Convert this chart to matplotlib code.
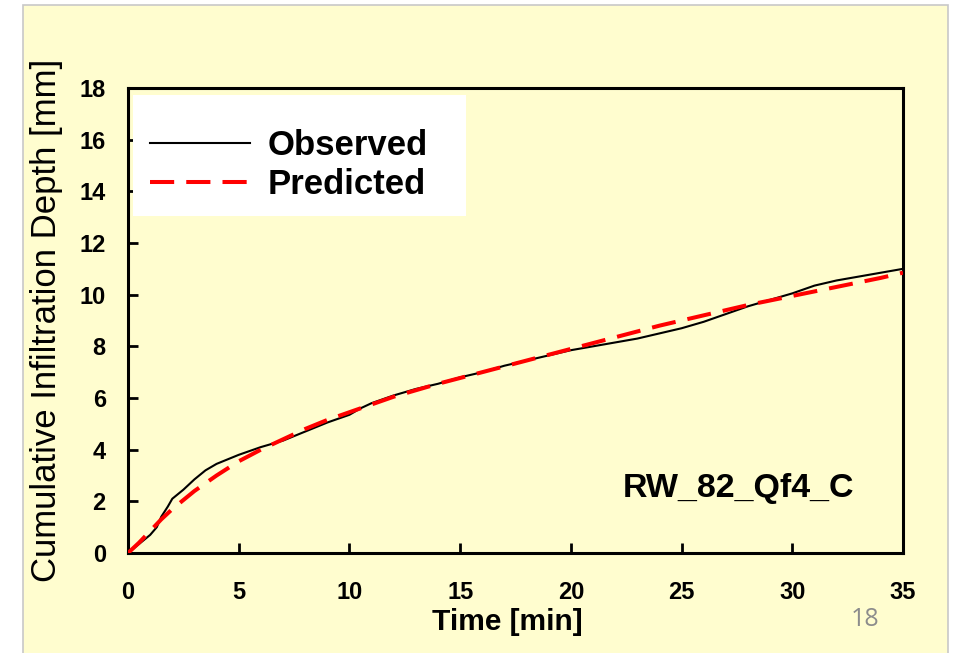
import matplotlib
matplotlib.use('Agg')
import matplotlib.pyplot as plt
from matplotlib.patches import Rectangle

plt.rcParams['font.family'] = ['Liberation Sans', 'DejaVu Sans']

# observed cumulative infiltration
t_obs = [0, 0.5, 1.0, 1.3, 1.5, 1.8, 2.0, 2.5, 3.0, 3.5, 4.0, 5.0, 6.0, 7.0,
         8.0, 9.0, 10.0, 10.5, 11.0, 12.0, 13.0, 14.0, 15.0, 16.0, 17.0, 18.0,
         19.0, 20.0, 21.0, 22.0, 23.0, 24.0, 25.0, 26.0, 27.0, 28.0, 29.0,
         30.0, 31.0, 32.0, 33.0, 34.0, 35.0]
i_obs = [0, 0.35, 0.7, 1.0, 1.4, 1.8, 2.1, 2.45, 2.85, 3.2, 3.45, 3.8, 4.1,
         4.35, 4.7, 5.05, 5.35, 5.6, 5.8, 6.1, 6.35, 6.55, 6.8, 7.0, 7.25,
         7.45, 7.65, 7.85, 8.0, 8.15, 8.3, 8.5, 8.7, 8.95, 9.25, 9.55, 9.8,
         10.05, 10.35, 10.55, 10.7, 10.85, 11.0]

# model prediction
t_pred = [0, 0.5, 1.0, 1.5, 2.0, 2.5, 3.0, 4.0, 5.0, 6.0, 7.0, 8.0, 9.0, 10.0,
          12.0, 14.0, 16.0, 18.0, 20.0, 22.0, 24.0, 26.0, 28.0, 30.0, 32.0,
          34.0, 35.0]
i_pred = [0, 0.4, 0.85, 1.3, 1.7, 2.05, 2.4, 3.0, 3.55, 4.0, 4.4, 4.8, 5.15,
          5.45, 6.05, 6.55, 7.0, 7.45, 7.9, 8.35, 8.8, 9.2, 9.6, 9.95, 10.3,
          10.65, 10.85]

site = 'RW_82_Qf4_C'
xticks = [0, 5, 10, 15, 20, 25, 30, 35]
yticks = [0, 2, 4, 6, 8, 10, 12, 14, 16, 18]

bg = '#FFFDCF'

fig = plt.figure(figsize=(9.54, 6.53), dpi=100)
fig.patch.set_facecolor('white')
# slide panel
fig.patches.append(Rectangle((23 / 954, -0.01), (948 - 23) / 954, 1 - 5 / 653 + 0.01,
                             transform=fig.transFigure, facecolor=bg,
                             edgecolor='#c8c8c8', linewidth=1.2, zorder=-10))

ax = fig.add_axes([128 / 954, 100 / 653, 775 / 954, 465 / 653])
ax.set_facecolor('none')
ax.set_zorder(2)

ax.plot(t_obs, i_obs, color='black', lw=1.5, label='Observed', zorder=3)
ax.plot(t_pred, i_pred, color='#FF0000', lw=2.9, dashes=(6, 3), label='Predicted', zorder=4)

ax.set_xlim(0, 35)
ax.set_ylim(0, 18)
ax.set_xticks(xticks)
ax.set_yticks(yticks)
ax.tick_params(direction='in', length=7, width=2, labelsize=17)
ax.tick_params(axis='x', pad=20)
ax.tick_params(axis='y', pad=16)
for lab in ax.get_xticklabels() + ax.get_yticklabels():
    lab.set_fontweight('bold')
for s in ax.spines.values():
    s.set_linewidth(2.2)

ax.set_xlabel('Time [min]', fontsize=21.5, fontweight='bold')
ax.xaxis.set_label_coords(0.489, -0.148)
ax.xaxis.label.set_va('center')
ax.set_ylabel('Cumulative Infiltration Depth [mm]', fontsize=25, labelpad=12)

# white box behind the legend
ax.add_patch(Rectangle((0.0065, 0.725), 0.43, 0.26, transform=ax.transAxes,
                       facecolor='white', edgecolor='none', zorder=5))
leg = ax.legend(loc='upper left', bbox_to_anchor=(0.01, 0.942), frameon=False,
                fontsize=25, handlelength=2.9, handletextpad=0.5,
                labelspacing=0.19, borderaxespad=0)
leg.set_zorder(6)
for txt in leg.get_texts():
    txt.set_fontweight('bold')

ax.text(32.8, 2.5, site, fontsize=24.5, fontweight='bold', ha='right', va='center')

fig.text(865 / 954, 1 - 620 / 653, '18', fontsize=18, color='#8c8c8c',
         family=['Open Sans', 'DejaVu Sans'], ha='center', va='center')

fig.savefig('out.png', dpi=100, facecolor=fig.get_facecolor())
